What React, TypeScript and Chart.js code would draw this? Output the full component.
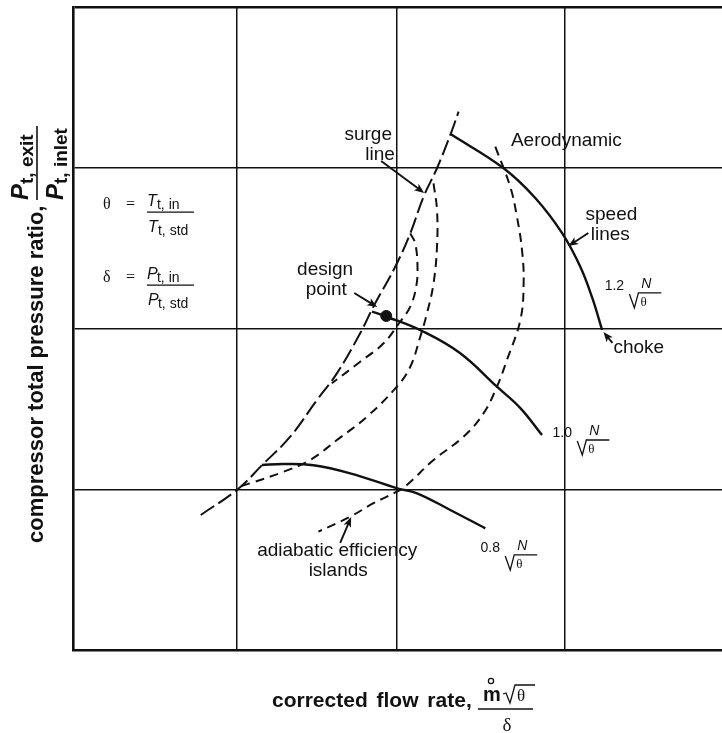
import React, { useEffect, useRef } from "react";
import { Chart, registerables } from "chart.js";

Chart.register(...registerables);

const SANS = '"Liberation Sans", Arial, Helvetica, sans-serif';
const SERIF = '"Liberation Serif", "Times New Roman", serif';
const INK = "#111";

// axis ranges (grid units) and grid positions
const X_MAX = 3.965;
const Y_MAX = 4;
const X_GRID = [1, 1.975, 3];
const Y_GRID = [1, 2, 3, 4];

// surge line (corrected flow, pressure ratio)
const SURGE_LINE = [
  [0.78, 0.84], [1.008, 1.002], [1.155, 1.151], [1.326, 1.327], [1.489, 1.555],
  [1.611, 1.721], [1.753, 1.97], [1.834, 2.136], [1.967, 2.384], [2.059, 2.592],
  [2.14, 2.82], [2.222, 2.997], [2.307, 3.214], [2.354, 3.349],
];

// speed lines
const SPEED_08 = [
  [1.153, 1.151], [1.285, 1.157], [1.468, 1.149], [1.692, 1.099], [1.979, 1.006],
  [2.1, 0.975], [2.303, 0.871], [2.517, 0.757],
];
const SPEED_10 = [
  [1.825, 2.105], [1.916, 2.073], [2.14, 1.98], [2.364, 1.846], [2.588, 1.638],
  [2.731, 1.505], [2.863, 1.337],
];
const SPEED_12 = [
  [2.307, 3.208], [2.629, 2.997], [2.822, 2.812], [2.987, 2.592], [3.097, 2.384],
  [3.17, 2.19], [3.23, 1.991],
];

// adiabatic efficiency islands
const ISLAND_1 = [
  [2.059, 2.592], [2.089, 2.53], [2.103, 2.384], [2.095, 2.26], [2.059, 2.136],
  [1.997, 2.042], [1.896, 1.908], [1.753, 1.793], [1.58, 1.659],
];
const ISLAND_2 = [
  [2.201, 2.903], [2.222, 2.737], [2.222, 2.509], [2.201, 2.281], [2.161, 2.095],
  [2.12, 1.949], [2.059, 1.762], [1.977, 1.638], [1.794, 1.451], [1.611, 1.306],
  [1.448, 1.182], [1.285, 1.109], [1.081, 1.037], [1.01, 1.016],
];
const ISLAND_3 = [
  [2.578, 3.131], [2.669, 2.882], [2.71, 2.696], [2.741, 2.488], [2.751, 2.281],
  [2.731, 2.053], [2.649, 1.804], [2.588, 1.638], [2.506, 1.472], [2.384, 1.327],
  [2.201, 1.182], [2.038, 1.026], [1.977, 0.985], [1.834, 0.913], [1.692, 0.829],
  [1.498, 0.736],
];

const DESIGN_POINT = [[1.912, 2.078]];

// annotation texts: [text, x, y(baseline), align]
const LABELS: [string, number, number, CanvasTextAlign][] = [
  ["surge", 1.802, 3.173, "center"],
  ["line", 1.875, 3.048, "center"],
  ["Aerodynamic", 3.012, 3.135, "center"],
  ["speed", 3.287, 2.675, "center"],
  ["lines", 3.28, 2.551, "center"],
  ["choke", 3.299, 1.848, "left"],
  ["design", 1.539, 2.333, "center"],
  ["point", 1.546, 2.208, "center"],
  ["adiabatic efficiency", 1.613, 0.585, "center"],
  ["islands", 1.619, 0.46, "center"],
];

// speed labels: [value, x, y(baseline)]
const SPEED_LABELS: [string, number, number][] = [
  ["1.2", 3.305, 2.24],
  ["1.0", 2.987, 1.325],
  ["0.8", 2.547, 0.61],
];

// arrows: [x1, y1, x2, y2] (head at second point)
const ARROWS = [
  [1.881, 3.042, 2.144, 2.843],
  [3.146, 2.594, 3.024, 2.513],
  [3.293, 1.91, 3.238, 1.978],
  [1.717, 2.221, 1.857, 2.134],
  [1.631, 0.666, 1.698, 0.827],
];

// definitions: [symbol, letter, x, y(baseline)]
const DEFINITIONS: [string, string, number, number][] = [
  ["θ", "T", 0.183, 2.743],
  ["δ", "P", 0.183, 2.289],
];

const X_TITLE = "corrected flow rate,";
const Y_TITLE = "compressor total pressure ratio,";

const pts = (a: number[][]) => a.map(([x, y]) => ({ x, y }));

function drawArrow(ctx: CanvasRenderingContext2D, x1: number, y1: number, x2: number, y2: number) {
  const a = Math.atan2(y2 - y1, x2 - x1);
  const L = 10, W = 4;
  const c = Math.cos(a), s = Math.sin(a);
  ctx.beginPath();
  ctx.moveTo(x1, y1);
  ctx.lineTo(x2 - L * 0.7 * c, y2 - L * 0.7 * s);
  ctx.lineWidth = 1.9;
  ctx.stroke();
  ctx.beginPath();
  ctx.moveTo(x2, y2);
  ctx.lineTo(x2 - L * c + W * s, y2 - L * s - W * c);
  ctx.lineTo(x2 - L * 0.75 * c, y2 - L * 0.75 * s);
  ctx.lineTo(x2 - L * c - W * s, y2 - L * s + W * c);
  ctx.closePath();
  ctx.fill();
}

function txt(ctx: CanvasRenderingContext2D, s: string, x: number, y: number, font: string, align: CanvasTextAlign = "left") {
  ctx.font = font;
  ctx.textAlign = align;
  ctx.textBaseline = "alphabetic";
  ctx.fillText(s, x, y);
}

const annotations = {
  id: "annotations",
  afterDraw(chart: any) {
    const ctx: CanvasRenderingContext2D = chart.ctx;
    const xs = chart.scales.x, ys = chart.scales.y;
    const X = (v: number) => xs.getPixelForValue(v);
    const Y = (v: number) => ys.getPixelForValue(v);
    const area = chart.chartArea;
    ctx.save();
    ctx.fillStyle = INK;
    ctx.strokeStyle = INK;

    for (const [s, x, y, al] of LABELS) txt(ctx, s, X(x), Y(y), `19px ${SANS}`, al);

    for (const a of ARROWS) drawArrow(ctx, X(a[0]), Y(a[1]), X(a[2]), Y(a[3]));

    for (const [num, x, y] of SPEED_LABELS) {
      const cx = X(x), by = Y(y);
      txt(ctx, num, cx, by, `14px ${SANS}`, "center");
      txt(ctx, "N", cx + 32, by - 2, `italic 14px ${SANS}`, "center");
      ctx.lineWidth = 1.3;
      ctx.beginPath();
      ctx.moveTo(cx + 15, by + 4);
      ctx.lineTo(cx + 20, by + 18);
      ctx.lineTo(cx + 24, by + 3);
      ctx.lineTo(cx + 47, by + 3);
      ctx.stroke();
      txt(ctx, "θ", cx + 26, by + 16, `13px ${SERIF}`, "left");
    }

    for (const [sym, letter, x, y] of DEFINITIONS) {
      const ax = X(x), by = Y(y);
      txt(ctx, sym, ax, by, `16px ${SERIF}`, "left");
      txt(ctx, "=", ax + 23, by, `16px ${SERIF}`, "left");
      txt(ctx, letter, ax + 44, by - 3, `italic 16px ${SANS}`, "left");
      txt(ctx, "t, in", ax + 54, by, `14px ${SANS}`, "left");
      ctx.lineWidth = 1.2;
      ctx.beginPath();
      ctx.moveTo(ax + 44, by + 3);
      ctx.lineTo(ax + 91, by + 3);
      ctx.stroke();
      txt(ctx, letter, ax + 45, by + 23, `italic 16px ${SANS}`, "left");
      txt(ctx, "t, std", ax + 55, by + 26, `14px ${SANS}`, "left");
    }

    // x-axis title
    const tx = area.left + 199, tb = area.bottom + 57;
    (ctx as any).wordSpacing = "3px";
    txt(ctx, X_TITLE, tx, tb, `bold 21px ${SANS}`, "left");
    (ctx as any).wordSpacing = "0px";
    const fx = area.left + 410;
    txt(ctx, "m", fx, tb - 6, `bold 20px ${SANS}`, "left");
    ctx.lineWidth = 1.3;
    ctx.beginPath();
    ctx.arc(fx + 8, tb - 26, 2.6, 0, Math.PI * 2);
    ctx.stroke();
    ctx.beginPath();
    ctx.moveTo(fx + 20, tb - 13);
    ctx.lineTo(fx + 23, tb - 14);
    ctx.lineTo(fx + 27, tb - 4);
    ctx.lineTo(fx + 32, tb - 22);
    ctx.lineTo(fx + 52, tb - 22);
    ctx.stroke();
    txt(ctx, "θ", fx + 34, tb - 6, `17px ${SERIF}`, "left");
    ctx.lineWidth = 1.4;
    ctx.beginPath();
    ctx.moveTo(fx - 5, tb + 2);
    ctx.lineTo(fx + 50, tb + 2);
    ctx.stroke();
    txt(ctx, "δ", fx + 24, tb + 24, `19px ${SERIF}`, "center");

    // y-axis title (rotated)
    ctx.save();
    ctx.translate(area.left - 30, area.bottom - 107);
    ctx.rotate(-Math.PI / 2);
    txt(ctx, Y_TITLE, 0, 0, `bold 22px ${SANS}`, "left");
    ctx.restore();
    const yStart = area.bottom - 450;
    ctx.save();
    ctx.translate(area.left - 45, yStart);
    ctx.rotate(-Math.PI / 2);
    txt(ctx, "P", 0, 0, `italic bold 24px ${SANS}`, "left");
    txt(ctx, "t, exit", 16, 5, `bold 19px ${SANS}`, "left");
    ctx.restore();
    ctx.save();
    ctx.translate(area.left - 10, yStart);
    ctx.rotate(-Math.PI / 2);
    txt(ctx, "P", 0, 0, `italic bold 24px ${SANS}`, "left");
    txt(ctx, "t, inlet", 16, 4, `bold 19px ${SANS}`, "left");
    ctx.restore();
    ctx.lineWidth = 1.6;
    ctx.beginPath();
    ctx.moveTo(area.left - 36, yStart);
    ctx.lineTo(area.left - 36, yStart - 74);
    ctx.stroke();

    ctx.restore();
  },
};

export default function App() {
  const ref = useRef<HTMLCanvasElement>(null);
  useEffect(() => {
    const line = (data: number[][], extra: any) => ({
      data: pts(data),
      showLine: true,
      borderColor: INK,
      backgroundColor: INK,
      pointRadius: 0,
      tension: 0.4,
      fill: false,
      ...extra,
    });
    const chart = new Chart(ref.current!, {
      type: "scatter",
      data: {
        datasets: [
          line(SURGE_LINE, { label: "surge line", borderWidth: 2, borderDash: [16, 5] }),
          line(SPEED_08, { label: "0.8 N/√θ", borderWidth: 2.4 }),
          line(SPEED_10, { label: "1.0 N/√θ", borderWidth: 2.4 }),
          line(SPEED_12, { label: "1.2 N/√θ", borderWidth: 2.4 }),
          line(ISLAND_1, { label: "island 1", borderWidth: 2, borderDash: [9, 6] }),
          line(ISLAND_2, { label: "island 2", borderWidth: 2, borderDash: [9, 6] }),
          line(ISLAND_3, { label: "island 3", borderWidth: 2, borderDash: [9, 6] }),
          {
            label: "design point",
            data: pts(DESIGN_POINT),
            showLine: false,
            pointRadius: 5.5,
            pointBackgroundColor: INK,
            pointBorderColor: INK,
          },
        ],
      },
      options: {
        responsive: false,
        animation: false,
        devicePixelRatio: 1,
        layout: { padding: { left: 73, top: 7, right: 0, bottom: 83 } },
        plugins: { legend: { display: false }, tooltip: { enabled: false }, title: { display: false } },
        events: [],
        scales: {
          x: {
            type: "linear",
            min: 0,
            max: X_MAX,
            afterBuildTicks: (axis: any) => {
              axis.ticks = X_GRID.map((v) => ({ value: v }));
            },
            ticks: { display: false },
            grid: { color: INK, lineWidth: 1.5, drawTicks: false },
            border: { display: true, color: INK, width: 2.6 },
          },
          y: {
            type: "linear",
            min: 0,
            max: Y_MAX,
            afterBuildTicks: (axis: any) => {
              axis.ticks = Y_GRID.map((v) => ({ value: v }));
            },
            ticks: { display: false },
            grid: {
              color: INK,
              lineWidth: (c: any) => (c.tick && c.tick.value === Y_MAX ? 2.6 : 1.5),
              drawTicks: false,
            },
            border: { display: true, color: INK, width: 2.6 },
          },
        },
      },
      plugins: [annotations],
    } as any);
    return () => chart.destroy();
  }, []);
  return (
    <div style={{ position: "fixed", left: 0, top: 0, width: 722, height: 733, overflow: "hidden", background: "#fff" }}>
      <canvas ref={ref} width={729} height={733} style={{ display: "block", width: 729, height: 733 }} />
    </div>
  );
}
